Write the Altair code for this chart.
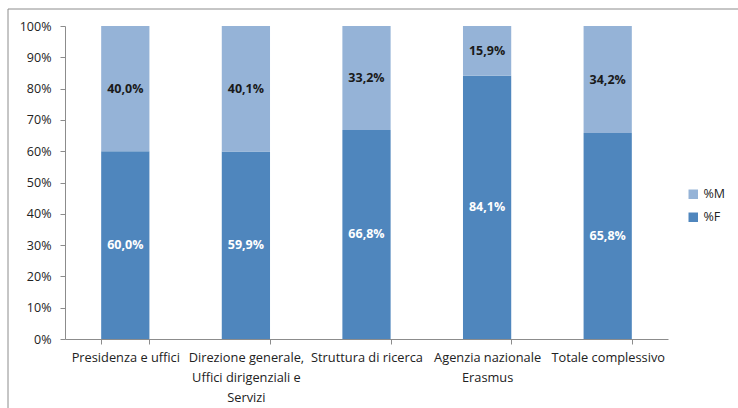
import altair as alt
import pandas as pd

categories = ["Presidenza e uffici", "Direzione generale, Uffici dirigenziali e Servizi",
              "Struttura di ricerca", "Agenzia nazionale Erasmus", "Totale complessivo"]
pct_f = [60.0, 59.9, 66.8, 84.1, 65.8]
pct_m = [40.0, 40.1, 33.2, 15.9, 34.2]
y_ticks = [0, 10, 20, 30, 40, 50, 60, 70, 80, 90, 100]

rows = []
for c, f, m in zip(categories, pct_f, pct_m):
    rows.append({"cat": c, "serie": "%F", "val": f, "ord": 0})
    rows.append({"cat": c, "serie": "%M", "val": m, "ord": 1})
df = pd.DataFrame(rows)

FONT = "Open Sans"
label_expr = ("datum.value == 'Direzione generale, Uffici dirigenziali e Servizi' ? "
              "['Direzione generale,', 'Uffici dirigenziali e', 'Servizi'] : "
              "datum.value == 'Agenzia nazionale Erasmus' ? ['Agenzia nazionale', 'Erasmus'] : datum.value")

x_axis = alt.Axis(labelAngle=0, labelExpr=label_expr, tickBand="extent",
                  domainColor="#8c8c8c", tickColor="#8c8c8c", tickSize=5,
                  labelFont=FONT, labelFontSize=12.8, labelColor="#222222",
                  labelPadding=7, labelLineHeight=20, labelLimit=200)
y_axis = alt.Axis(values=y_ticks, labelExpr="datum.value + '%'",
                  grid=False, domainColor="#8c8c8c", tickColor="#8c8c8c",
                  labelOverlap=False, tickSize=5, labelPadding=9, labelFont=FONT,
                  labelFontSize=12.5, labelColor="#222222")
x_scale = alt.Scale(paddingInner=0.6, paddingOuter=0.3)
y_scale = alt.Scale(domain=[0, 100])

base = alt.Chart(df)

bars = base.mark_bar().encode(
    x=alt.X("cat:N", sort=categories, title=None, scale=x_scale, axis=x_axis),
    y=alt.Y("val:Q", stack="zero", title=None, scale=y_scale, axis=y_axis),
    color=alt.Color("serie:N", title=None,
                    scale=alt.Scale(domain=["%M", "%F"], range=["#95B3D7", "#4F86BD"]),
                    legend=alt.Legend(orient="none", legendX=622, legendY=162,
                                      symbolType="square", symbolSize=90,
                                      symbolStrokeWidth=0, rowPadding=10,
                                      labelFont=FONT, labelFontSize=12.5, labelColor="#222222")),
    order=alt.Order("ord:Q"),
)

texts = base.transform_window(
    cum="sum(val)", groupby=["cat"], sort=[alt.SortField("ord")]
).transform_calculate(
    mid="datum.cum - datum.val / 2",
    lab="replace(format(datum.val, '.1f'), '.', ',') + '%'"
).mark_text(font=FONT, fontSize=12.5, fontWeight="bold").encode(
    x=alt.X("cat:N", sort=categories, title=None, scale=x_scale, axis=x_axis),
    y=alt.Y("mid:Q", title=None, scale=y_scale, axis=y_axis),
    text="lab:N",
    color=alt.condition("datum.serie == '%F'", alt.value("white"), alt.value("#1a1a1a")),
)

frame = alt.Chart(pd.DataFrame({"a": [0]})).mark_rect(
    fill=None, stroke="#8c8c8c", strokeWidth=1
).encode(x=alt.value(-57), x2=alt.value(700), y=alt.value(-17), y2=alt.value(400))

chart = alt.layer(frame, bars, texts).properties(
    width=603, height=313,
    autosize=alt.AutoSizeParams(type="none"),
    padding={"left": 65, "top": 26, "right": 70, "bottom": 69},
    background="white",
).configure_view(stroke=None)

chart.save("out.html", embed_options={"renderer": "svg", "actions": False})
